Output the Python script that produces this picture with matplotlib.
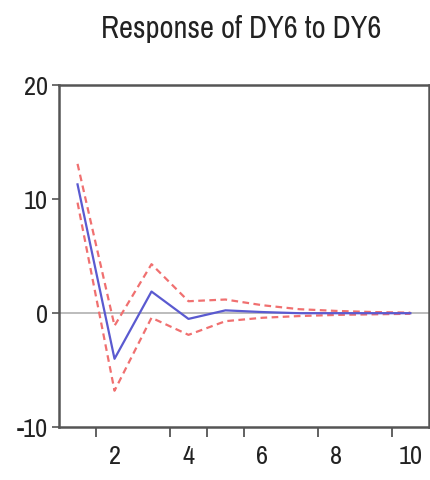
import matplotlib
matplotlib.use("Agg")
import matplotlib.pyplot as plt
from matplotlib import font_manager

periods = [1, 2, 3, 4, 5, 6, 7, 8, 9, 10]
response = [11.3, -4.0, 1.9, -0.5, 0.25, 0.1, 0.0, 0.0, 0.0, 0.0]
upper = [13.1, -1.1, 4.3, 1.05, 1.2, 0.7, 0.35, 0.2, 0.1, 0.05]
lower = [9.7, -6.8, -0.4, -1.9, -0.7, -0.4, -0.25, -0.15, -0.1, -0.05]
xtick_labels = [2, 4, 6, 8, 10]
xtick_marks = [1.5, 3.5, 4.5, 5.5, 7.5, 9.5]
ytick_labels = [-10, 0, 10, 20]
title = "Response of DY6 to DY6"

names = {f.name for f in font_manager.fontManager.ttflist}
fam = "Liberation Sans"
for cand in ["Liberation Sans Narrow", "Archivo Narrow", "Roboto Condensed", "Barlow Semi Condensed"]:
    if cand in names:
        fam = cand
        break
plt.rcParams['font.family'] = [fam, 'DejaVu Sans']

fig = plt.figure(figsize=(4.31, 4.8), dpi=100)
ax = fig.add_axes([0.137, 0.110, 0.858, 0.7125])

ax.axhline(0, color="#b0b0b0", lw=1.2, zorder=1)
ax.plot(periods, upper, color="#f07070", lw=1.6, ls=(0, (3, 2)), zorder=2)
ax.plot(periods, lower, color="#f07070", lw=1.6, ls=(0, (3, 2)), zorder=2)
ax.plot(periods, response, color="#5a5ad0", lw=1.6, zorder=3)

ax.set_xlim(0.5, 10.5)
ax.set_ylim(-10, 20)
ax.set_yticks(ytick_labels)
ax.set_yticklabels([str(v) for v in ytick_labels], fontsize=19, color="#222222")
ax.set_xticks(xtick_labels)
ax.set_xticklabels([str(v) for v in xtick_labels], fontsize=19, color="#222222")
ax.tick_params(axis='x', which='major', length=0, pad=13)
ax.set_xticks(xtick_marks, minor=True)
ax.tick_params(axis='x', which='minor', length=7, width=1.3, color="#555555", direction='out')
ax.tick_params(axis='y', length=5, width=1.2, color="#555555", pad=3)

for s in ax.spines.values():
    s.set_color("#555555")
    s.set_linewidth(1.8)

fig.text(0.56, 0.94, title, ha='center', va='center', fontsize=22, color="#222222")

fig.savefig("out.png", dpi=100)
